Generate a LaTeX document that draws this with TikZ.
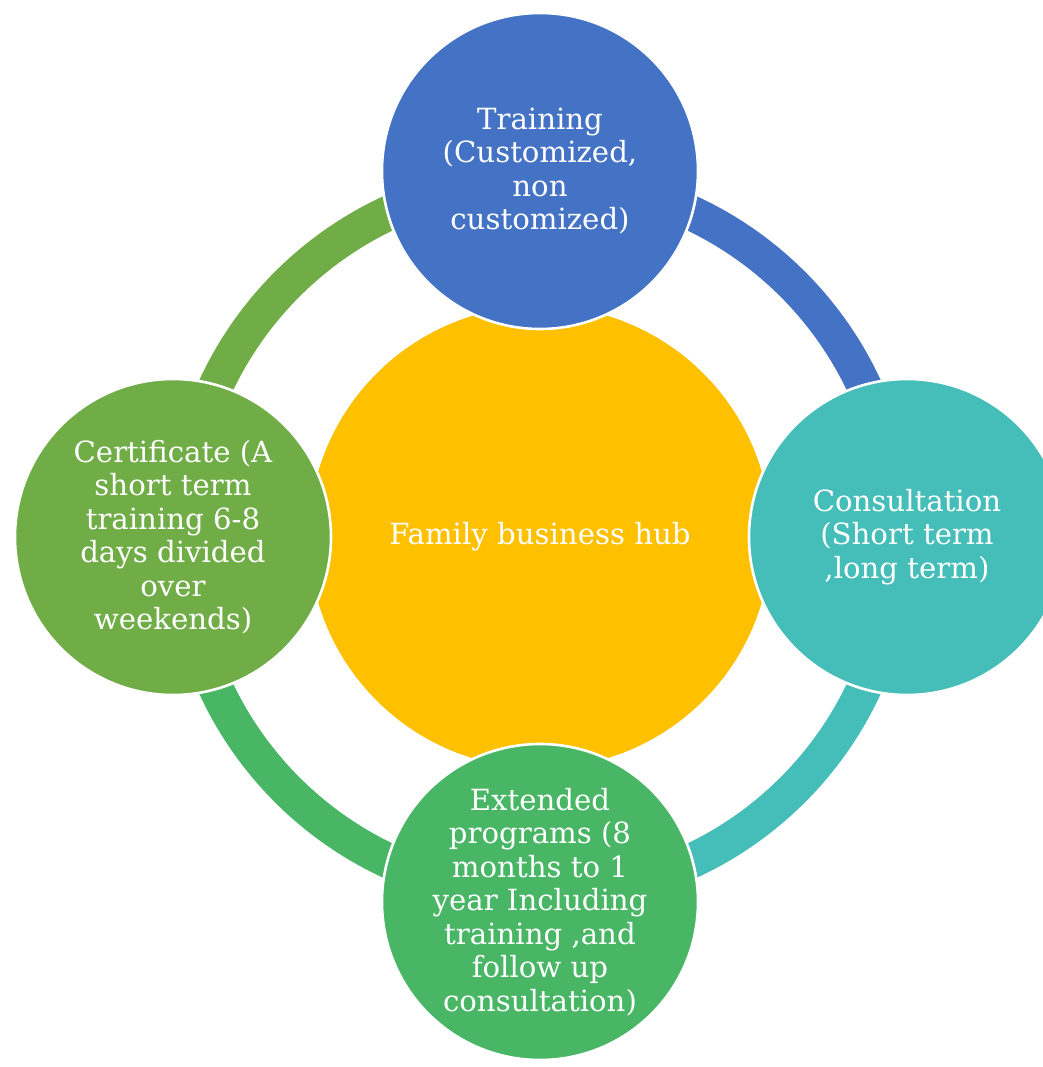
\documentclass[tikz,border=0pt]{standalone}
\usepackage{fontspec}
\setmainfont{DejaVu Serif}
\definecolor{cycBlue}{HTML}{4472C4}
\definecolor{cycTeal}{HTML}{45BDB9}
\definecolor{cycGreen}{HTML}{48B665}
\definecolor{cycLime}{HTML}{70AD47}
\definecolor{cycGold}{HTML}{FFC000}
\tikzset{
  labelfont/.style={font=\fontsize{14.6pt}{16.75pt}\selectfont},
  ringarc/.style={line width=17.5pt, line cap=butt},
  hubdisc/.style={circle, fill=cycGold, minimum size=231pt, inner sep=0pt,
    text=white, labelfont, align=center},
  satdisc/.style={circle, draw=white, line width=1.3pt, minimum size=158pt,
    inner sep=0pt, text=white, labelfont, align=center}
}
\begin{document}
\begin{tikzpicture}
\useasboundingbox (-270pt,-265pt) rectangle (251.5pt,268.5pt);
% central hub
\node[hubdisc] (hub) at (0,0) {};
% ring segments between the satellites
\draw[ringarc, cycBlue]  (hub.center) ++(90:178.75pt)  arc[start angle=90,  end angle=0,    radius=178.75pt];
\draw[ringarc, cycTeal]  (hub.center) ++(0:178.75pt)   arc[start angle=0,   end angle=-90,  radius=178.75pt];
\draw[ringarc, cycGreen] (hub.center) ++(-90:178.75pt) arc[start angle=-90, end angle=-180, radius=178.75pt];
\draw[ringarc, cycLime]  (hub.center) ++(180:178.75pt) arc[start angle=180, end angle=90,   radius=178.75pt];
% hub drawn over the ring, with its label
\node[hubdisc] (hubtop) at (hub.center) {Family business hub};
% satellites
\node[satdisc, fill=cycBlue]  (training) at (90:183pt)
  {Training\\(Customized,\\non\\customized)};
\node[satdisc, fill=cycTeal]  (consult) at (0:183.5pt)
  {Consultation\\(Short term\\,long term)};
\node[satdisc, fill=cycGreen] (extended) at (-90:182.5pt)
  {Extended\\programs (8\\months to 1\\year Including\\training ,and\\follow up\\consultation)};
\node[satdisc, fill=cycLime]  (certificate) at (180:183.5pt)
  {Certificate (A\\short term\\training 6-8\\days divided\\over\\weekends)};
\end{tikzpicture}
\end{document}
